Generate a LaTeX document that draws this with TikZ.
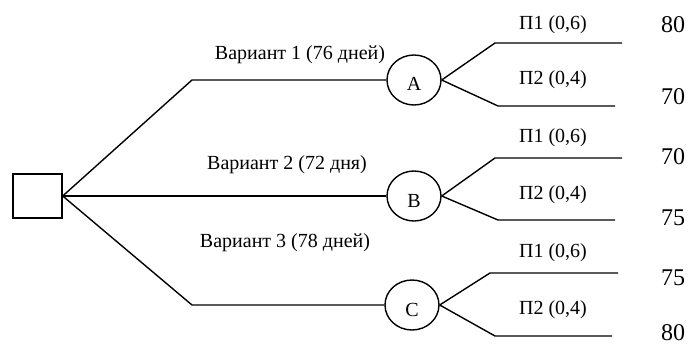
\documentclass[tikz,border=0pt]{standalone}
\usepackage{fontspec}
\setmainfont{Liberation Serif}
\usetikzlibrary{shapes}

\begin{document}
\begin{tikzpicture}[x=1pt,y=-1pt,line width=1.4pt,
                    font=\fontsize{20}{24}\selectfont]
  \tikzstyle{decision}=[draw,rectangle,minimum width=49pt,minimum height=44pt,inner sep=0pt]
  \tikzstyle{chance}=[draw,ellipse,minimum width=54pt,minimum height=50pt,inner sep=0pt,
                      text height=22pt,text depth=0pt]
  \tikzstyle{prob}=[inner sep=0pt]
  \tikzstyle{payoff}=[inner sep=0pt,font=\fontsize{24}{28}\selectfont]

  \useasboundingbox (0,0) rectangle (689,345);

  \node[decision] (D) at (37.5,196) {};
  \node[chance]   (A) at (414,80)   {A};
  \node[chance]   (B) at (414,196)  {B};
  \node[chance]   (C) at (412,305)  {C};

  % corners of the variant lines
  \coordinate (A0) at (192,80);
  \coordinate (C0) at (192,305);

  \draw (D.east) -- (A0) -- (A);
  \draw (D.east) -- (B);
  \draw (D.east) -- (C0) -- (C);

  \node[prob] (vA) at (300,55)  {Вариант 1 (76 дней)};
  \node[prob] (vB) at (287,165) {Вариант 2 (72 дня)};
  \node[prob] (vC) at (285,243) {Вариант 3 (78 дней)};

  % outcome branches
  \coordinate (A1) at (495,43);   \coordinate (A1e) at (622,43);
  \coordinate (A2) at (498,106);  \coordinate (A2e) at (615,106);
  \coordinate (B1) at (495,158);  \coordinate (B1e) at (622,158);
  \coordinate (B2) at (498,220);  \coordinate (B2e) at (615,220);
  \coordinate (C1) at (490,273);  \coordinate (C1e) at (618,273);
  \coordinate (C2) at (495,336);  \coordinate (C2e) at (612,336);

  \draw (A.east) -- (A1) -- (A1e);
  \draw (A.east) -- (A2) -- (A2e);
  \draw (B.east) -- (B1) -- (B1e);
  \draw (B.east) -- (B2) -- (B2e);
  \draw (C.east) -- (C1) -- (C1e);
  \draw (C.east) -- (C2) -- (C2e);

  \node[prob] (pA1) at (553,25)  {П1 (0,6)};
  \node[prob] (pA2) at (553,80)  {П2 (0,4)};
  \node[prob] (pB1) at (553,138) {П1 (0,6)};
  \node[prob] (pB2) at (553,195) {П2 (0,4)};
  \node[prob] (pC1) at (553,253) {П1 (0,6)};
  \node[prob] (pC2) at (553,310) {П2 (0,4)};

  \node[payoff] (rA1) at (673,25)  {80};
  \node[payoff] (rA2) at (673,97)  {70};
  \node[payoff] (rB1) at (673,157) {70};
  \node[payoff] (rB2) at (673,218) {75};
  \node[payoff] (rC1) at (673,278) {75};
  \node[payoff] (rC2) at (673,333) {80};
\end{tikzpicture}
\end{document}
